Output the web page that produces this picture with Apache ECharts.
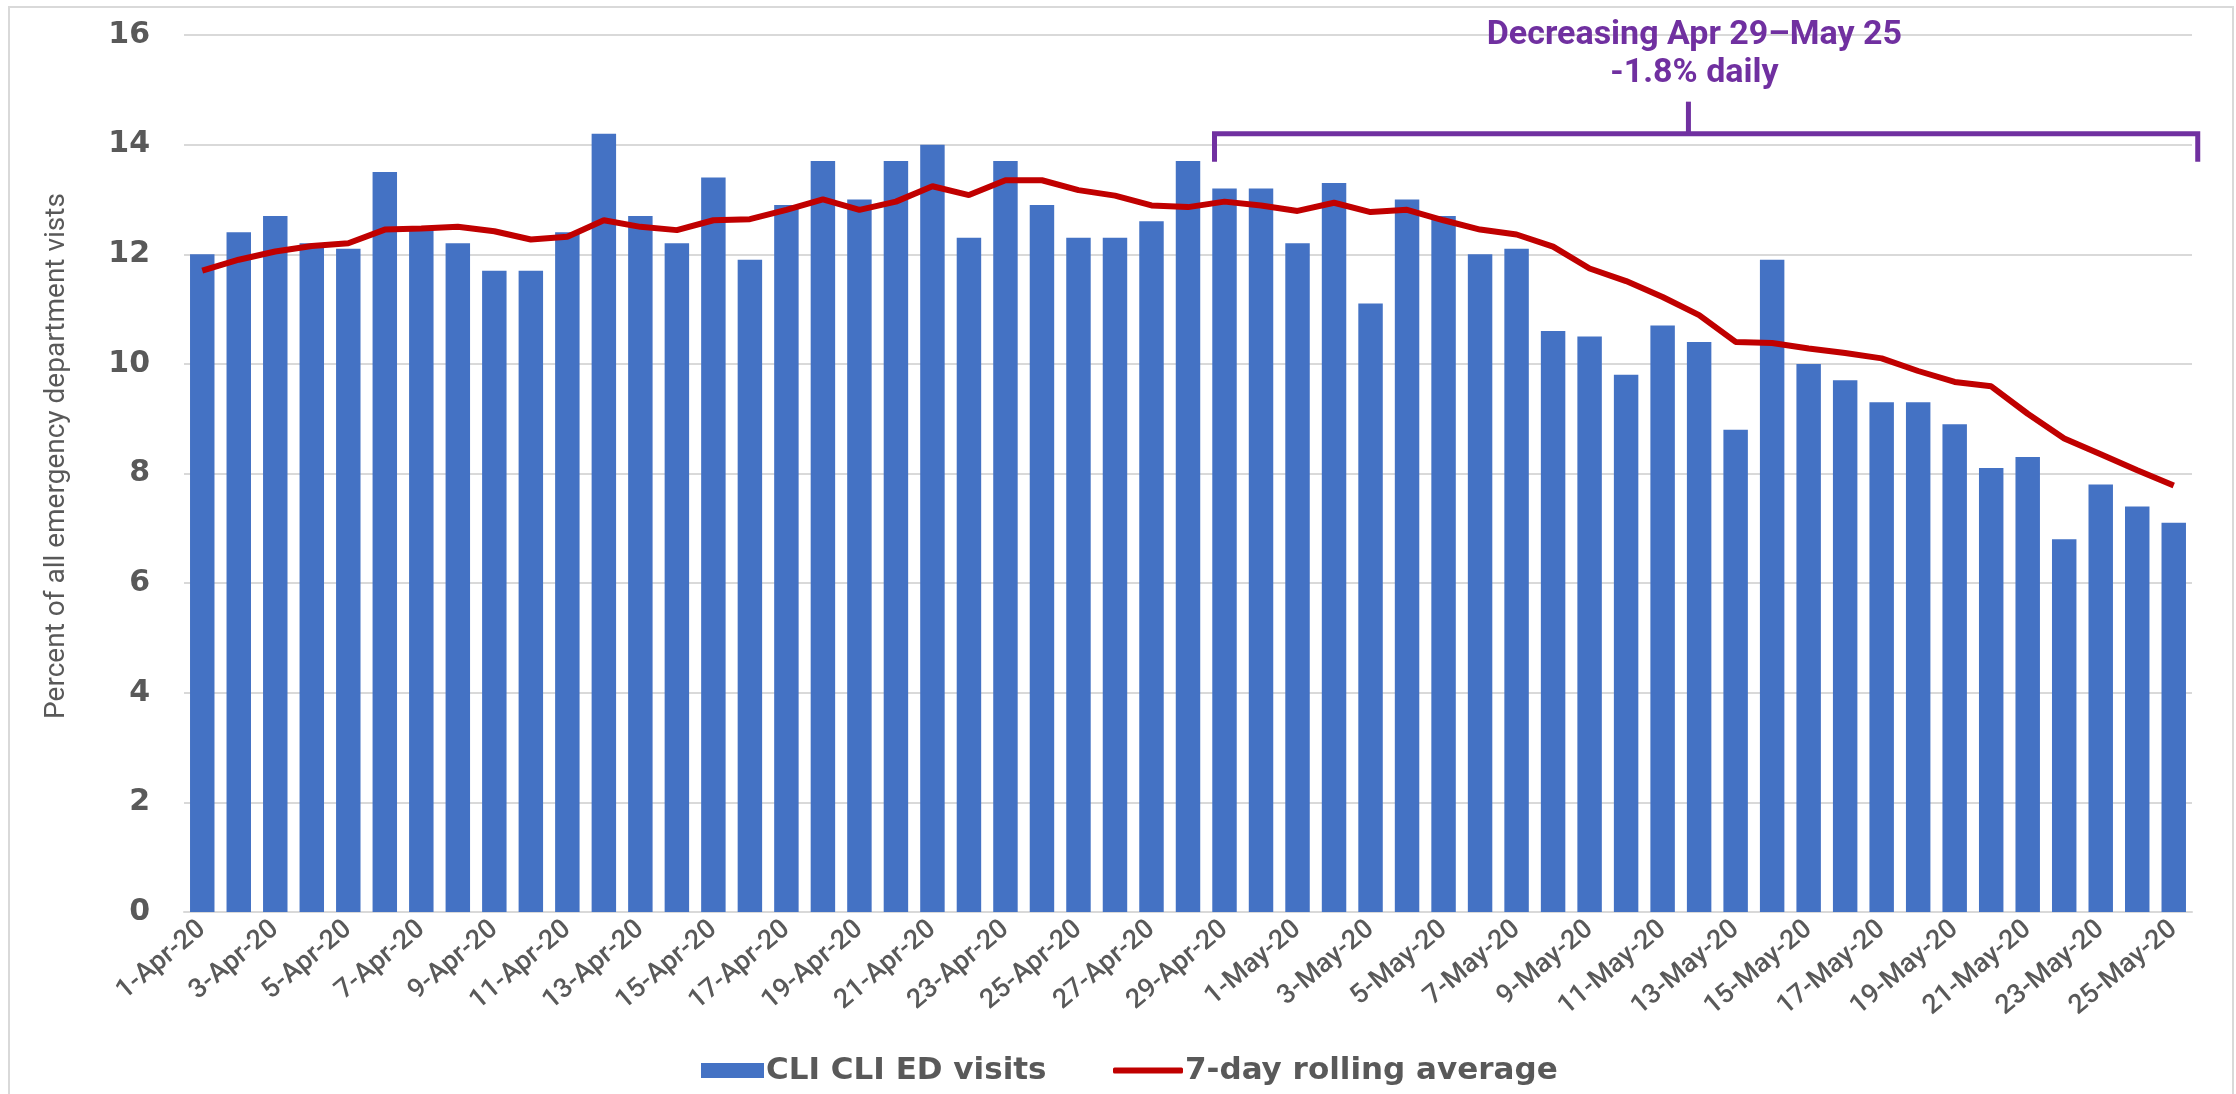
<!DOCTYPE html>
<html>
<head>
<meta charset="utf-8">
<script src="https://cdn.jsdelivr.net/npm/echarts@6/dist/echarts.min.js"></script>
<style>
  html, body { margin: 0; padding: 0; background: #fff; }
  #chart { width: 2236px; height: 1094px; }
</style>
</head>
<body>
<div id="chart"></div>
<script>
// daily categories, Apr 1 - May 25 2020
const days = [
  '1-Apr-20','2-Apr-20','3-Apr-20','4-Apr-20','5-Apr-20','6-Apr-20','7-Apr-20','8-Apr-20','9-Apr-20','10-Apr-20',
  '11-Apr-20','12-Apr-20','13-Apr-20','14-Apr-20','15-Apr-20','16-Apr-20','17-Apr-20','18-Apr-20','19-Apr-20','20-Apr-20',
  '21-Apr-20','22-Apr-20','23-Apr-20','24-Apr-20','25-Apr-20','26-Apr-20','27-Apr-20','28-Apr-20','29-Apr-20','30-Apr-20',
  '1-May-20','2-May-20','3-May-20','4-May-20','5-May-20','6-May-20','7-May-20','8-May-20','9-May-20','10-May-20',
  '11-May-20','12-May-20','13-May-20','14-May-20','15-May-20','16-May-20','17-May-20','18-May-20','19-May-20','20-May-20',
  '21-May-20','22-May-20','23-May-20','24-May-20','25-May-20'
]

// percent of ED visits that are CLI
const edVisits = [
  12.0, 12.4, 12.7, 12.2, 12.1, 13.5, 12.5, 12.2, 11.7, 11.7,
  12.4, 14.2, 12.7, 12.2, 13.4, 11.9, 12.9, 13.7, 13.0, 13.7,
  14.0, 12.3, 13.7, 12.9, 12.3, 12.3, 12.6, 13.7, 13.2, 13.2,
  12.2, 13.3, 11.1, 13.0, 12.7, 12.0, 12.1, 10.6, 10.5, 9.8,
  10.7, 10.4, 8.8, 11.9, 10.0, 9.7, 9.3, 9.3, 8.9, 8.1,
  8.3, 6.8, 7.8, 7.4, 7.1
]

// 7-day rolling average
const rollingAvg = [
  11.70, 11.90, 12.05, 12.15, 12.20, 12.45, 12.47, 12.50, 12.42, 12.27,
  12.32, 12.62, 12.50, 12.44, 12.62, 12.64, 12.81, 13.00, 12.81, 12.96,
  13.24, 13.08, 13.35, 13.35, 13.17, 13.07, 12.89, 12.86, 12.96, 12.89,
  12.79, 12.94, 12.77, 12.81, 12.62, 12.45, 12.36, 12.14, 11.74, 11.51,
  11.22, 10.89, 10.40, 10.38, 10.28, 10.20, 10.10, 9.87, 9.67, 9.59,
  9.09, 8.64, 8.35, 8.06, 7.78
]

// bracket annotation
const trendStart = '29-Apr-20'
const trendEnd = '25-May-20'
const trendLevel = 14.2
const trendText = ['Decreasing Apr 29\u2013May 25', '-1.8% daily']

const grey = '#595959'
const purple = '#7030A0'
const wideBold = '"DejaVu Sans", Roboto, sans-serif'

const chart = echarts.init(document.getElementById('chart'))

chart.setOption({
  animation: false,
  backgroundColor: '#fff',
  textStyle: { fontFamily: 'Roboto, "Liberation Sans", sans-serif' },
  grid: { left: 184, right: 44, top: 35, bottom: 182 },
  legend: [
    {
      data: [{ name: 'CLI CLI ED visits', icon: 'rect' }],
      left: 696, top: 1050,
      itemWidth: 63, itemHeight: 15,
      textStyle: { fontSize: 31, fontWeight: 'bold', color: grey, fontFamily: wideBold, padding: [0, 0, 0, -3] }
    },
    {
      data: [{ name: '7-day rolling average', icon: 'roundRect' }],
      left: 1108, top: 1050,
      itemWidth: 70, itemHeight: 6,
      textStyle: { fontSize: 31, fontWeight: 'bold', color: grey, fontFamily: wideBold, padding: [0, 0, 0, -3] }
    }
  ],
  xAxis: {
    type: 'category',
    data: days,
    axisTick: { show: false },
    axisLine: { lineStyle: { color: '#d9d9d9', width: 2 } },
    axisLabel: {
      interval: 1,
      rotate: 40,
      fontSize: 27,
      fontWeight: 500,
      color: grey,
      margin: 14
    }
  },
  yAxis: {
    type: 'value',
    min: 0,
    max: 16,
    interval: 2,
    axisLine: { show: false },
    axisTick: { show: false },
    axisLabel: { fontSize: 30, fontWeight: 'bold', color: grey, margin: 34, fontFamily: wideBold },
    splitLine: { lineStyle: { color: '#d9d9d9', width: 2 } }
  },
  series: [
    {
      name: 'CLI CLI ED visits',
      type: 'bar',
      data: edVisits,
      barCategoryGap: '33%',
      itemStyle: { color: '#4472C4' }
    },
    {
      name: '7-day rolling average',
      type: 'line',
      data: rollingAvg,
      symbol: 'none',
      smooth: false,
      lineStyle: { color: '#C00000', width: 6 },
      itemStyle: { color: '#C00000' }
    }
  ]
})

// bracket + labels, placed from the axes
const xl = chart.convertToPixel({ xAxisIndex: 0 }, trendStart) - 10
const xr = chart.convertToPixel({ xAxisIndex: 0 }, trendEnd) + 24
const yb = chart.convertToPixel({ yAxisIndex: 0 }, trendLevel)
const xm = xl + (xr - xl) * 0.482
const bracket = { stroke: purple, lineWidth: 5, fill: null }

chart.setOption({
  graphic: [
    { type: 'rect', shape: { x: 9, y: 7, width: 2224, height: 1100 }, style: { stroke: '#d9d9d9', lineWidth: 2, fill: null }, silent: true },
    { type: 'polyline', shape: { points: [[xl, yb + 28], [xl, yb], [xr, yb], [xr, yb + 28]] }, style: bracket },
    { type: 'line', shape: { x1: xm, y1: yb, x2: xm, y2: yb - 32 }, style: bracket },
    {
      type: 'text', x: xm + 6, y: 16,
      style: {
        text: trendText.join('\n'),
        fill: purple,
        font: 'bold 34px Roboto, sans-serif',
        align: 'center',
        lineHeight: 38
      }
    },
    {
      // y axis title
      type: 'text', x: 57, y: 456, rotation: Math.PI / 2,
      style: {
        text: 'Percent of all emergency department vists',
        fill: grey,
        font: '28px Roboto, sans-serif',
        align: 'center',
        verticalAlign: 'middle'
      }
    }
  ]
})

window.addEventListener('resize', () => chart.resize())
</script>
</body>
</html>
